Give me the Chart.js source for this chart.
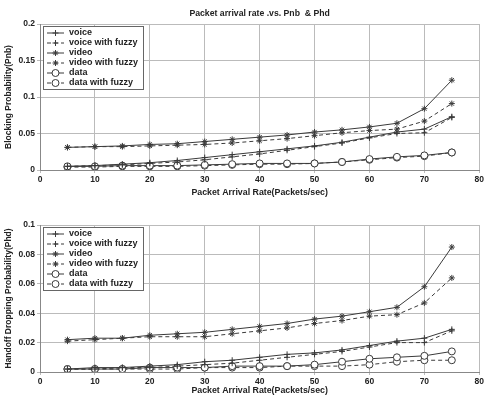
<!DOCTYPE html>
<html>
<head>
<meta charset="utf-8">
<script src="https://cdn.jsdelivr.net/npm/chart.js@4.4.0/dist/chart.umd.min.js"></script>
<style>
  html, body { margin: 0; padding: 0; background: #fff; }
  #wrap { position: relative; width: 486px; height: 396px; }
  .box { position: absolute; left: 0; width: 486px; height: 198px; }
</style>
</head>
<body>
<div id="wrap">
  <div class="box" style="top:0"><canvas id="topChart" width="486" height="198"></canvas></div>
  <div class="box" style="top:198px"><canvas id="botChart" width="486" height="198"></canvas></div>
</div>
<script>
// packet arrival rate (packets/sec)
var rates = [5, 10, 15, 20, 25, 30, 35, 40, 45, 50, 55, 60, 65, 70, 75];
var seriesNames = ['voice', 'voice with fuzzy', 'video', 'video with fuzzy', 'data', 'data with fuzzy'];

// blocking probability (Pnb)
var pnbVoice      = [0.005, 0.006, 0.008, 0.010, 0.013, 0.017, 0.021, 0.025, 0.029, 0.033, 0.038, 0.045, 0.052, 0.056, 0.073];
var pnbVoiceFuzzy = [0.005, 0.006, 0.007, 0.009, 0.011, 0.014, 0.018, 0.022, 0.027, 0.032, 0.037, 0.044, 0.050, 0.051, 0.072];
var pnbVideo      = [0.031, 0.032, 0.033, 0.035, 0.036, 0.039, 0.042, 0.045, 0.048, 0.052, 0.055, 0.059, 0.064, 0.084, 0.123];
var pnbVideoFuzzy = [0.031, 0.032, 0.032, 0.033, 0.034, 0.035, 0.037, 0.040, 0.043, 0.047, 0.051, 0.054, 0.056, 0.067, 0.091];
var pnbData       = [0.005, 0.005, 0.006, 0.006, 0.006, 0.007, 0.008, 0.009, 0.009, 0.009, 0.011, 0.015, 0.018, 0.020, 0.024];
var pnbDataFuzzy  = [0.004, 0.004, 0.005, 0.005, 0.005, 0.006, 0.007, 0.008, 0.008, 0.009, 0.011, 0.014, 0.017, 0.019, 0.024];

// handoff dropping probability (Phd)
var phdVoice      = [0.002, 0.003, 0.003, 0.004, 0.005, 0.007, 0.008, 0.010, 0.012, 0.013, 0.015, 0.018, 0.021, 0.023, 0.029];
var phdVoiceFuzzy = [0.002, 0.002, 0.003, 0.003, 0.004, 0.005, 0.006, 0.008, 0.010, 0.012, 0.014, 0.017, 0.020, 0.020, 0.028];
var phdVideo      = [0.022, 0.023, 0.023, 0.025, 0.026, 0.027, 0.029, 0.031, 0.033, 0.036, 0.038, 0.041, 0.044, 0.058, 0.085];
var phdVideoFuzzy = [0.021, 0.022, 0.023, 0.024, 0.024, 0.024, 0.026, 0.028, 0.030, 0.033, 0.035, 0.038, 0.039, 0.047, 0.064];
var phdData       = [0.002, 0.002, 0.002, 0.003, 0.003, 0.003, 0.004, 0.004, 0.004, 0.005, 0.007, 0.009, 0.010, 0.011, 0.014];
var phdDataFuzzy  = [0.002, 0.002, 0.002, 0.002, 0.002, 0.003, 0.003, 0.003, 0.004, 0.004, 0.004, 0.005, 0.007, 0.008, 0.008];

var xTicks = [0, 10, 20, 30, 40, 50, 60, 70, 80];
var pnbTicks = [0, 0.05, 0.1, 0.15, 0.2];
var phdTicks = [0, 0.02, 0.04, 0.06, 0.08, 0.1];

var FONT = '"Liberation Sans", Arial, sans-serif';
var ink = '#3a3a3a';
var styles = [
  { point: 'cross', dash: [], r: 3 },
  { point: 'cross', dash: [4, 3], r: 3 },
  { point: 'star', dash: [], r: 3 },
  { point: 'star', dash: [4, 3], r: 3 },
  { point: 'circle', dash: [], r: 3.5 },
  { point: 'circle', dash: [4, 3], r: 3.5 }
];

function makeSets(lists) {
  return lists.map(function(vals, i) {
    return {
      label: seriesNames[i],
      data: vals.map(function(v, j) { return { x: rates[j], y: v }; }),
      borderColor: ink,
      backgroundColor: '#fff',
      borderWidth: 1,
      borderDash: styles[i].dash,
      pointStyle: styles[i].point,
      pointRadius: styles[i].r,
      pointBorderColor: ink,
      pointBackgroundColor: '#fff',
      pointBorderWidth: 1,
      tension: 0
    };
  });
}

// legend box drawn inside the plot, top-left, like the matlab one
var boxLegend = {
  id: 'boxLegend',
  afterDatasetsDraw: function(chart) {
    var ctx = chart.ctx, a = chart.chartArea;
    var x = a.left + 3, y = a.top + 2, w = 100, rowH = 10;
    var h = rowH * 6 + 3;
    ctx.save();
    ctx.fillStyle = '#fff';
    ctx.fillRect(x, y, w, h);
    ctx.strokeStyle = '#666';
    ctx.lineWidth = 1;
    ctx.strokeRect(x + 0.5, y + 0.5, w, h);
    chart.data.datasets.forEach(function(ds, i) {
      var cy = y + 7 + i * rowH;
      ctx.strokeStyle = ink;
      ctx.setLineDash(ds.borderDash);
      ctx.beginPath();
      ctx.moveTo(x + 4, cy);
      ctx.lineTo(x + 21, cy);
      ctx.stroke();
      ctx.setLineDash([]);
      ctx.fillStyle = '#fff';
      ctx.strokeStyle = ink;
      Chart.helpers.drawPoint(ctx, { pointStyle: ds.pointStyle, radius: ds.pointRadius, borderWidth: 1 }, x + 12.5, cy);
      ctx.fillStyle = '#222';
      ctx.font = 'bold 9px ' + FONT;
      ctx.textBaseline = 'middle';
      ctx.fillText(ds.label, x + 26, cy);
    });
    ctx.restore();
  }
};

var topTitle = {
  id: 'topTitle',
  afterDraw: function(chart) {
    if (!chart.options.plugins.topTitle.text) return;
    var ctx = chart.ctx;
    ctx.save();
    ctx.fillStyle = '#222';
    ctx.font = 'bold 8.7px ' + FONT;
    ctx.textAlign = 'center';
    ctx.textBaseline = 'middle';
    ctx.fillText(chart.options.plugins.topTitle.text, (chart.chartArea.left + chart.chartArea.right) / 2, 14);
    ctx.restore();
  }
};

function makeChart(id, lists, yTicks, yMax, yTitle, title, padTop, chartBottom) {
  return new Chart(document.getElementById(id), {
    type: 'line',
    data: { datasets: makeSets(lists) },
    plugins: [boxLegend, topTitle],
    options: {
      responsive: false,
      animation: false,
      layout: { padding: { top: padTop, right: 6, left: 0, bottom: 0 } },
      plugins: {
        legend: { display: false },
        tooltip: { enabled: false },
        topTitle: { text: title }
      },
      scales: {
        x: {
          type: 'linear',
          min: 0, max: 80,
          afterBuildTicks: function(s) { s.ticks = xTicks.map(function(v) { return { value: v }; }); },
          afterFit: function(s) { s.height = 198 - chartBottom; },
          grid: { color: '#bbb', lineWidth: 1, tickLength: 3, borderDash: [1, 2] },
          border: { color: '#888', width: 1 },
          ticks: { color: '#222', font: { family: FONT, size: 8.5, weight: 'bold' }, padding: 2, maxRotation: 0 },
          title: { display: true, text: 'Packet Arrival Rate(Packets/sec)', color: '#222', font: { family: FONT, size: 8.8, weight: 'bold' }, padding: { top: 1, bottom: 0 } }
        },
        y: {
          min: 0, max: yMax,
          afterBuildTicks: function(s) { s.ticks = yTicks.map(function(v) { return { value: v }; }); },
          afterFit: function(s) { s.width = 40; },
          grid: { color: '#bbb', lineWidth: 1, tickLength: 3, borderDash: [1, 2] },
          border: { color: '#888', width: 1 },
          ticks: {
            color: '#222', font: { family: FONT, size: 8.5, weight: 'bold' }, padding: 2,
            callback: function(v) { return String(Math.round(v * 1000) / 1000); }
          },
          title: { display: true, text: yTitle, color: '#222', font: { family: FONT, size: 8.5, weight: 'bold' }, padding: { top: 4, bottom: 0 } }
        }
      }
    }
  });
}

makeChart('topChart', [pnbVoice, pnbVoiceFuzzy, pnbVideo, pnbVideoFuzzy, pnbData, pnbDataFuzzy],
  pnbTicks, 0.2, 'Blocking Probability(Pnb)', 'Packet arrival rate .vs. Pnb  & Phd', 24, 170);
makeChart('botChart', [phdVoice, phdVoiceFuzzy, phdVideo, phdVideoFuzzy, phdData, phdDataFuzzy],
  phdTicks, 0.1, 'Handoff Dropping Probability(Phd)', '', 27, 174);
</script>
</body>
</html>
